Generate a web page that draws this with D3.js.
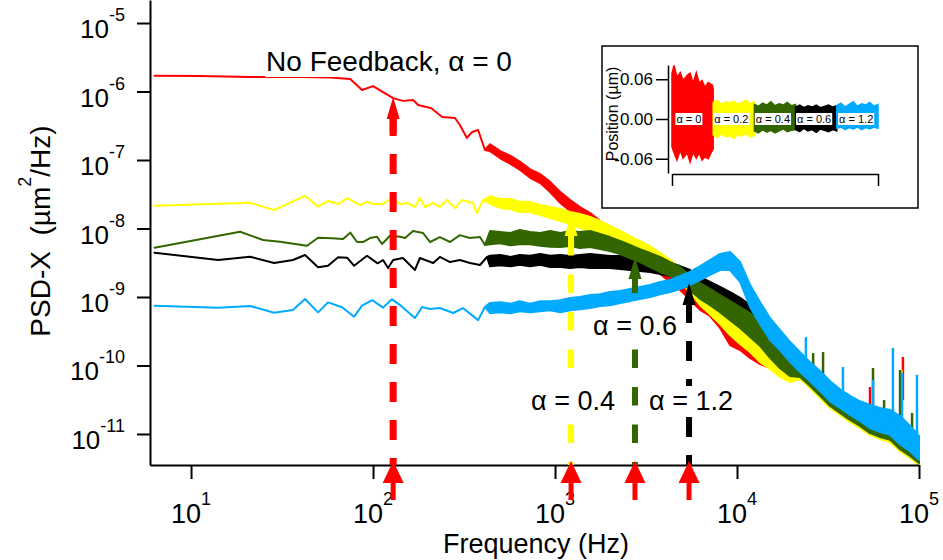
<!DOCTYPE html>
<html lang="en">
<head>
<meta charset="utf-8">
<title>PSD-X with feedback gain</title>
<script src="https://cdn.jsdelivr.net/npm/d3@7"></script>
<style>
  body { margin: 0; background: #fff; }
  text { font-family: "Liberation Sans", Arial, Helvetica, sans-serif; fill: #000; }
</style>
</head>
<body>
<svg id="chart" width="943" height="560"></svg>
<script>
// low-frequency (sparse) points: [frequency Hz, PSD um^2/Hz]
var redLow = [[6.3, 1.70e-6], [11.2, 1.68e-6], [21.1, 1.63e-6], [41, 1.63e-6], [58, 1.60e-6], [75, 1.52e-6],
  [87, 1.05e-6], [100, 1.2e-6], [129, 8.0e-7], [146, 7.3e-7], [166, 7.5e-7], [177, 6.35e-7],
  [209, 5.7e-7], [240, 4.25e-7], [282, 4.1e-7], [300, 3.24e-7], [328, 2.1e-7], [350, 2.56e-7],
  [378, 2.74e-7], [412, 1.4e-7]];
var yellowLow = [[6.3, 2.15e-8], [21.1, 2.38e-8], [28.5, 1.86e-8], [42.3, 3.0e-8], [49.9, 2.08e-8], [56.6, 2.52e-8],
  [64.3, 2.28e-8], [72, 2.79e-8], [85, 2.2e-8], [92.7, 2.46e-8], [100, 2.28e-8], [113.5, 2.28e-8],
  [127, 2.79e-8], [141, 2.28e-8], [154, 2.36e-8], [170, 2.06e-8], [181, 2.79e-8], [193, 2.06e-8],
  [214, 2.36e-8], [233, 2.06e-8], [255, 2.6e-8], [282, 1.99e-8], [308, 2.6e-8], [354, 2.36e-8],
  [372, 1.68e-8], [402, 2.6e-8]];
var greenLow = [[6.3, 5.25e-9], [18.6, 8.98e-9], [24.9, 6.79e-9], [30.8, 6.41e-9], [43.4, 5.6e-9], [49.9, 7.33e-9],
  [59.6, 7.2e-9], [68.4, 7.0e-9], [75, 8.7e-9], [81.7, 6.35e-9], [88, 6.35e-9], [96.3, 7.26e-9],
  [105, 7.6e-9], [112, 5.94e-9], [124, 7.85e-9], [141, 7.6e-9], [150, 7.26e-9], [166, 9.2e-9],
  [188, 8.6e-9], [206, 6.35e-9], [233, 7.5e-9], [265, 6.35e-9], [300, 8.0e-9], [341, 7.26e-9],
  [387, 7.5e-9], [412, 5.74e-9]];
var blackLow = [[6.3, 4.43e-9], [14.1, 3.47e-9], [21.1, 3.88e-9], [28.6, 3.13e-9], [36.3, 3.47e-9], [42.3, 4.11e-9],
  [49.9, 2.71e-9], [56.6, 2.86e-9], [64.3, 3.8e-9], [72, 3.75e-9], [78.7, 2.86e-9], [92.7, 4.0e-9],
  [106, 3.1e-9], [113.5, 3.47e-9], [121, 2.65e-9], [129, 3.47e-9], [146, 3.71e-9], [170, 2.48e-9],
  [181, 3.71e-9], [214, 3.13e-9], [233, 3.84e-9], [265, 3.24e-9], [300, 3.47e-9], [341, 3.13e-9],
  [387, 2.93e-9], [423, 3.84e-9]];
var blueLow = [[6.3, 7.47e-10], [14.1, 6.99e-10], [21.1, 7.4e-10], [28.6, 5.9e-10], [36.3, 6.45e-10], [42.3, 9.35e-10],
  [49.9, 5.97e-10], [56.6, 8.35e-10], [67.6, 7.1e-10], [78.7, 5.16e-10], [87, 7.47e-10], [99, 9.0e-10],
  [113.5, 7.0e-10], [127, 9.25e-10], [141, 7.6e-10], [170, 4.93e-10], [186, 7.14e-10], [206, 6.67e-10],
  [233, 6.9e-10], [276, 5.84e-10], [312, 6.9e-10], [378, 4.6e-10], [412, 7.14e-10]];

// dense (noisy) part: shared frequencies, upper and lower envelope per series
var fDense = [440, 500, 570, 640, 730, 830, 940, 1070, 1210, 1370, 1560, 1770, 2000, 2280, 2580, 2930, 3330,
  3780, 4290, 4870, 5520, 6270, 7110, 8070, 9160, 10400, 11800, 13400, 15200, 17200, 19600, 22200, 25200,
  28600, 32500, 36800, 41800, 47400, 53800, 61100, 69400, 78700, 89300, 100000];
var redHi = [1.7e-7, 1.35e-7, 1.15e-7, 9.5e-8, 7.3e-8, 6.2e-8, 4.8e-8, 3.4e-8, 2.6e-8, 2.06e-8, 1.68e-8, 1.29e-8,
  1.02e-8, 8.0e-9, 6.35e-9, 5.0e-9, 3.97e-9, 3.24e-9, 2.48e-9, 1.9e-9, 1.45e-9, 1.07e-9, 9.0e-10, 6.9e-10,
  5.46e-10, 4.3e-10, 3.3e-10, 2.6e-10, 2.06e-10, 1.63e-10, 1.29e-10, 1.2e-10, 9.2e-11, 6.8e-11, 4.85e-11,
  3.71e-11, 2.93e-11, 2.48e-11, 2.17e-11, 1.96e-11, 1.83e-11, 1.5e-11, 1.07e-11, 7.6e-12];
var redLo = [1.35e-7, 1.06e-7, 8.8e-8, 7.2e-8, 5.5e-8, 4.6e-8, 3.4e-8, 2.35e-8, 1.8e-8, 1.42e-8, 1.16e-8, 8.9e-9,
  7.0e-9, 5.55e-9, 4.39e-9, 3.47e-9, 2.74e-9, 2.17e-9, 1.66e-9, 1.27e-9, 9.0e-10, 6.5e-10, 5.28e-10, 3.53e-10,
  1.99e-10, 1.68e-10, 1.29e-10, 1.05e-10, 9.2e-11, 7.5e-11, 5.9e-11, 6.56e-11, 4.85e-11, 3.47e-11, 2.48e-11,
  1.96e-11, 1.55e-11, 1.27e-11, 1.0e-11, 8.7e-12, 7.9e-12, 5.84e-12, 4.6e-12, 3.65e-12];
var yellowHi = [2.95e-8, 2.7e-8, 2.7e-8, 2.45e-8, 2.45e-8, 2.2e-8, 2.06e-8, 1.93e-8, 1.74e-8, 1.63e-8, 1.47e-8,
  1.29e-8, 1.09e-8, 9.2e-9, 7.76e-9, 6.56e-9, 5.55e-9, 4.39e-9, 3.47e-9, 2.65e-9, 1.9e-9, 1.35e-9, 1.0e-9,
  7.6e-10, 5.8e-10, 4.47e-10, 3.41e-10, 2.6e-10, 2.06e-10, 1.68e-10, 1.33e-10, 1.29e-10, 9.2e-11, 6.8e-11,
  4.85e-11, 3.71e-11, 2.93e-11, 2.48e-11, 2.17e-11, 1.96e-11, 1.83e-11, 1.5e-11, 1.07e-11, 7.6e-12];
var yellowLo = [2.3e-8, 2.0e-8, 1.93e-8, 1.74e-8, 1.74e-8, 1.57e-8, 1.42e-8, 1.29e-8, 1.16e-8, 1.02e-8, 9.2e-9,
  8.0e-9, 6.79e-9, 5.74e-9, 4.85e-9, 4.25e-9, 3.71e-9, 2.93e-9, 2.24e-9, 1.66e-9, 1.18e-9, 7.6e-10, 5.6e-10,
  4.04e-10, 2.79e-10, 2.06e-10, 1.57e-10, 1.12e-10, 8.9e-11, 6.8e-11, 5.74e-11, 6.35e-11, 4.7e-11, 3.36e-11,
  2.4e-11, 1.9e-11, 1.5e-11, 1.22e-11, 9.7e-12, 8.45e-12, 7.6e-12, 5.6e-12, 4.47e-12, 3.53e-12];
var greenHi = [9.2e-9, 8.9e-9, 8.6e-9, 9.5e-9, 8.9e-9, 8.6e-9, 9.2e-9, 8.6e-9, 9.2e-9, 8.9e-9, 9.2e-9, 8.3e-9,
  7.5e-9, 6.56e-9, 5.74e-9, 5.0e-9, 4.39e-9, 3.84e-9, 3.24e-9, 2.74e-9, 2.03e-9, 1.6e-9, 1.31e-9, 1.07e-9,
  8.7e-10, 7.1e-10, 5.8e-10, 4.3e-10, 2.88e-10, 1.8e-10, 1.38e-10, 1.29e-10, 9.8e-11, 7.3e-11, 5.2e-11,
  4.0e-11, 3.13e-11, 2.65e-11, 2.32e-11, 2.1e-11, 1.96e-11, 1.6e-11, 1.14e-11, 8.2e-12];
var greenLo = [5.9e-9, 6.1e-9, 5.7e-9, 5.9e-9, 5.9e-9, 5.6e-9, 5.4e-9, 5.37e-9, 5.55e-9, 5.19e-9, 5.37e-9,
  5.0e-9, 4.7e-9, 4.25e-9, 3.71e-9, 3.24e-9, 2.74e-9, 2.32e-9, 2.03e-9, 1.71e-9, 1.27e-9, 9.35e-10, 7.6e-10,
  6.0e-10, 4.6e-10, 3.53e-10, 2.6e-10, 1.93e-10, 1.29e-10, 9.2e-11, 7.0e-11, 6.8e-11, 5.0e-11, 3.6e-11,
  2.56e-11, 2.03e-11, 1.6e-11, 1.31e-11, 1.03e-11, 9.0e-12, 8.2e-12, 6.0e-12, 4.77e-12, 3.78e-12];
var blackHi = [4.0e-9, 4.11e-9, 3.84e-9, 4.11e-9, 4.0e-9, 4.25e-9, 4.0e-9, 4.11e-9, 3.97e-9, 4.11e-9, 4.25e-9,
  4.11e-9, 3.97e-9, 3.97e-9, 3.84e-9, 3.71e-9, 3.59e-9, 3.36e-9, 3.13e-9, 2.83e-9, 2.48e-9, 1.96e-9, 1.66e-9,
  1.4e-9, 1.18e-9, 9.7e-10, 7.6e-10, 3.9e-10, 2.6e-10, 1.8e-10, 1.47e-10, 1.42e-10, 1.02e-10, 7.5e-11,
  5.37e-11, 4.1e-11, 3.24e-11, 2.74e-11, 2.4e-11, 2.17e-11, 2.03e-11, 1.66e-11, 1.18e-11, 8.45e-12];
var blackLo = [2.8e-9, 2.9e-9, 2.8e-9, 2.95e-9, 2.8e-9, 2.95e-9, 2.74e-9, 2.74e-9, 2.65e-9, 2.74e-9, 2.65e-9,
  2.65e-9, 2.65e-9, 2.56e-9, 2.48e-9, 2.4e-9, 2.32e-9, 2.17e-9, 2.03e-9, 1.83e-9, 1.6e-9, 1.22e-9, 1.03e-9,
  8.7e-10, 7.1e-10, 5.6e-10, 4.3e-10, 2.36e-10, 1.47e-10, 9.8e-11, 7.5e-11, 7.3e-11, 5.37e-11, 3.84e-11,
  2.74e-11, 2.17e-11, 1.71e-11, 1.4e-11, 1.1e-11, 9.7e-12, 8.7e-12, 6.45e-12, 5.1e-12, 3.9e-12];
var blueHi = [8.2e-10, 8.4e-10, 8.0e-10, 8.7e-10, 8.0e-10, 8.7e-10, 8.7e-10, 9.0e-10, 9.7e-10, 1.0e-9, 1.07e-9,
  1.1e-9, 1.18e-9, 1.22e-9, 1.31e-9, 1.4e-9, 1.5e-9, 1.66e-9, 1.77e-9, 2.03e-9, 2.32e-9, 2.83e-9, 3.47e-9,
  4.25e-9, 4.54e-9, 3.24e-9, 1.5e-9, 8.4e-10, 4.9e-10, 3.3e-10, 2.2e-10, 1.57e-10, 1.12e-10, 8.3e-11, 5.9e-11,
  4.5e-11, 3.6e-11, 3.0e-11, 2.65e-11, 2.4e-11, 2.24e-11, 1.83e-11, 1.31e-11, 9.4e-12];
var blueLo = [5.8e-10, 6.0e-10, 5.8e-10, 6.2e-10, 6.0e-10, 6.2e-10, 6.4e-10, 6.0e-10, 6.4e-10, 6.6e-10, 6.9e-10,
  7.4e-10, 7.6e-10, 8.2e-10, 8.7e-10, 9.35e-10, 1.0e-9, 1.1e-9, 1.18e-9, 1.31e-9, 1.5e-9, 1.77e-9, 2.1e-9,
  2.48e-9, 2.48e-9, 1.66e-9, 7.1e-10, 4.0e-10, 2.36e-10, 1.68e-10, 1.12e-10, 8.0e-11, 5.9e-11, 4.25e-11,
  3.0e-11, 2.4e-11, 1.9e-11, 1.55e-11, 1.22e-11, 1.07e-11, 9.7e-12, 7.1e-12, 5.6e-12, 4.2e-12];

// narrow resonance peaks: [frequency, base PSD, peak PSD]
var redSpikes = [[53800, 2.24e-11, 4.85e-11], [81600, 3.13e-11, 1.33e-10]];
var yellowSpikes = [[31600, 3.13e-11, 5.55e-11], [80000, 1.6e-11, 8.6e-11]];
var greenSpikes = [[26200, 6.1e-11, 1.52e-10], [29700, 5.2e-11, 1.57e-10], [55900, 2.65e-11, 9.2e-11],
  [64300, 1.6e-11, 3.13e-11], [78700, 1.6e-11, 8.6e-11], [91600, 6.9e-12, 2.03e-11]];
var blueSpikes = [[23900, 1.09e-10, 2.6e-10], [38200, 3.97e-11, 9.5e-11], [55900, 2.24e-11, 6.14e-11],
  [71900, 1.6e-11, 1.8e-10], [80700, 1.35e-11, 7.8e-11], [97500, 8.2e-12, 7.3e-11]];

// corner frequencies marked with arrows
var arrowFreq = [129, 1225, 2750, 5450];
var arrowTip = [8.3e-7, 1.63e-8, 3.84e-9, 1.6e-9];

// axis ticks
var xMajor = [1e1, 1e2, 1e3, 1e4, 1e5];
var xExp = ["1", "2", "3", "4", "5"];
var yMajor = [1e-5, 1e-6, 1e-7, 1e-8, 1e-9, 1e-10, 1e-11];
var yExp = ["-5", "-6", "-7", "-8", "-9", "-10", "-11"];

// inset: position traces (um) vs time, upper / lower envelope
var redTraceT = [0, 0.5, 1.2, 2.0, 2.7, 3.7, 4.4, 5.1, 5.9, 6.6, 7.3, 8.0, 8.8, 9.8, 10];
var redTraceTop = [0.069, 0.081, 0.063, 0.070, 0.058, 0.066, 0.069, 0.054, 0.070, 0.054, 0.058, 0.048, 0.055, 0.051, 0.046];
var redTraceBot = [-0.042, -0.051, -0.062, -0.047, -0.059, -0.051, -0.065, -0.050, -0.059, -0.051, -0.062, -0.057, -0.060, -0.047, -0.045];
var traceT = [0, 1, 2, 3, 4, 5, 6, 7, 8, 9, 10];
var yellowTraceTop = [0.025, 0.028, 0.022, 0.026, 0.024, 0.027, 0.022, 0.025, 0.028, 0.023, 0.026];
var yellowTraceBot = [-0.024, -0.028, -0.022, -0.027, -0.025, -0.029, -0.023, -0.026, -0.022, -0.027, -0.025];
var greenTraceTop = [0.022, 0.019, 0.024, 0.021, 0.026, 0.020, 0.023, 0.021, 0.025, 0.020, 0.022];
var greenTraceBot = [-0.018, -0.021, -0.016, -0.020, -0.017, -0.021, -0.018, -0.015, -0.019, -0.017, -0.016];
var blackTraceTop = [0.018, 0.021, 0.017, 0.020, 0.018, 0.021, 0.017, 0.019, 0.021, 0.018, 0.020];
var blackTraceBot = [-0.016, -0.019, -0.014, -0.018, -0.016, -0.020, -0.015, -0.017, -0.019, -0.016, -0.018];
var blueTraceTop = [0.020, 0.024, 0.018, 0.022, 0.026, 0.019, 0.023, 0.021, 0.025, 0.019, 0.022];
var blueTraceBot = [-0.014, -0.012, -0.016, -0.013, -0.015, -0.012, -0.016, -0.013, -0.015, -0.012, -0.014];
var insetLabels = ["α = 0", "α = 0.2", "α = 0.4", "α = 0.6", "α = 1.2"];
var insetLabelT = [4.1, 14.4, 24.5, 34.5, 44.7];

var RED = "#ff0000", YELLOW = "#ffff00", GREEN = "#336600", BLACK = "#000000", BLUE = "#00aaff";

var svg = d3.select("#chart");

var x = d3.scaleLog().domain([5.95, 1e5]).range([150, 919]);
var y = d3.scaleLog().domain([3.526e-12, 2.168e-5]).range([465, 0]);

function bandData(low, hi, lo) {
  return low.map(function(d) { return {f: d[0], hi: d[1], lo: d[1]}; })
    .concat(fDense.map(function(f, i) { return {f: f, hi: hi[i], lo: lo[i]}; }));
}

var series = [
  {color: RED, data: bandData(redLow, redHi, redLo), spikes: redSpikes},
  {color: YELLOW, data: bandData(yellowLow, yellowHi, yellowLo), spikes: yellowSpikes},
  {color: BLACK, data: bandData(blackLow, blackHi, blackLo), spikes: []},
  {color: GREEN, data: bandData(greenLow, greenHi, greenLo), spikes: greenSpikes},
  {color: BLUE, data: bandData(blueLow, blueHi, blueLo), spikes: blueSpikes}
];

var area = d3.area()
  .x(function(d) { return x(d.f); })
  .y0(function(d) { return y(d.lo); })
  .y1(function(d) { return y(d.hi); });

series.forEach(function(s) {
  svg.append("path").datum(s.data)
    .attr("d", area)
    .attr("fill", s.color)
    .attr("stroke", s.color)
    .attr("stroke-width", 2)
    .attr("stroke-linejoin", "round");
  svg.selectAll(null).data(s.spikes).enter().append("line")
    .attr("x1", function(d) { return x(d[0]); })
    .attr("x2", function(d) { return x(d[0]); })
    .attr("y1", function(d) { return y(d[1]); })
    .attr("y2", function(d) { return y(d[2]); })
    .attr("stroke", s.color)
    .attr("stroke-width", 2.5);
});

// axes
var xMinor = [];
[1, 10, 100, 1000, 10000].forEach(function(d) {
  for (var k = 2; k < 10; k++) if (k * d > 6.5 && k * d < 1e5) xMinor.push(k * d);
});

var gx = svg.append("g").attr("transform", "translate(0,465)");
gx.call(d3.axisBottom(x).tickValues(xMinor).tickSize(7).tickSizeOuter(0).tickFormat(""));
gx.call(d3.axisBottom(x).tickValues(xMajor).tickSize(14).tickSizeOuter(0).tickFormat(""));
var gy = svg.append("g").attr("transform", "translate(150,0)");
gy.call(d3.axisLeft(y).tickValues(yMajor).tickSize(13).tickSizeOuter(0).tickFormat(""));
svg.selectAll(".domain, .tick line").attr("stroke", "#000").attr("stroke-width", 2);

xMajor.forEach(function(v, i) {
  var t = svg.append("text").attr("x", x(v)).attr("y", 523)
    .attr("text-anchor", "middle").attr("font-size", 27).text("10");
  t.append("tspan").attr("dy", -18).attr("font-size", 18).text(xExp[i]);
});
yMajor.forEach(function(v, i) {
  var t = svg.append("text").attr("x", 125).attr("y", y(v) + 15)
    .attr("text-anchor", "end").attr("font-size", 26).text("10");
  t.append("tspan").attr("dy", -17).attr("font-size", 18).text(yExp[i]);
});

svg.append("text").attr("x", 536).attr("y", 553).attr("text-anchor", "middle")
  .attr("font-size", 27).text("Frequency (Hz)");
var yl = svg.append("text").attr("transform", "translate(50,231) rotate(-90)")
  .attr("text-anchor", "middle").attr("font-size", 28).text("PSD-X\u00a0 (µm");
yl.append("tspan").attr("dy", -19).attr("font-size", 18).text("2");
yl.append("tspan").attr("dy", 19).text("/Hz)");

// dashed arrows up to each corner frequency
var arrowStyle = [
  {color: RED, width: 7, dash: "20,18", offset: 13},
  {color: YELLOW, width: 6, dash: "18.5,19", offset: 15.5},
  {color: GREEN, width: 6, dash: "18.5,19", offset: 15.5},
  {color: BLACK, width: 6, dash: "20,18", offset: 10}
];
var headW = 13, headH = 22;
arrowFreq.forEach(function(f, i) {
  var st = arrowStyle[i], xi = x(f), yt = y(arrowTip[i]);
  svg.append("line").attr("x1", xi).attr("x2", xi).attr("y1", 465).attr("y2", yt + headH)
    .attr("stroke", st.color).attr("stroke-width", st.width)
    .attr("stroke-dasharray", st.dash).attr("stroke-dashoffset", st.offset);
  svg.append("line").attr("x1", xi).attr("x2", xi).attr("y1", yt + headH - 1).attr("y2", yt + headH + 14)
    .attr("stroke", st.color).attr("stroke-width", st.width);
  svg.append("path")
    .attr("d", "M" + xi + "," + yt + "L" + (xi - headW / 2) + "," + (yt + headH) + "L" + (xi + headW / 2) + "," + (yt + headH) + "Z")
    .attr("fill", st.color);
  // red marker below the axis
  svg.append("path")
    .attr("d", "M" + xi + ",461L" + (xi - 10.5) + ",483L" + (xi + 10.5) + ",483Z")
    .attr("fill", RED);
  svg.append("rect").attr("x", xi - 2.5).attr("y", 482).attr("width", 5).attr("height", 18).attr("fill", RED);
});

// annotations with white backgrounds
function label(str, cx, base, size) {
  var g = svg.append("g");
  var t = g.append("text").attr("x", cx).attr("y", base).attr("text-anchor", "middle")
    .attr("font-size", size).text(str);
  var b = t.node().getBBox();
  g.insert("rect", "text").attr("x", b.x - 1).attr("y", b.y).attr("width", b.width + 2)
    .attr("height", b.height).attr("fill", "#fff");
}
label("No Feedback, α = 0", 389, 71, 28);
label("α = 0.6", 635, 335, 27);
label("α = 0.4", 573, 410, 27);
label("α = 1.2", 691, 410, 27);

// inset
svg.append("rect").attr("x", 602).attr("y", 46).attr("width", 316).attr("height", 162)
  .attr("fill", "#fff").attr("stroke", "#000").attr("stroke-width", 1.5);
var ix = d3.scaleLinear().domain([0, 50]).range([672, 878]);
var iy = d3.scaleLinear().domain([-0.0815, 0.0815]).range([173, 65]);

var traces = [
  {color: RED, t: redTraceT, off: 0, top: redTraceTop, bot: redTraceBot},
  {color: YELLOW, t: traceT, off: 10, top: yellowTraceTop, bot: yellowTraceBot},
  {color: GREEN, t: traceT, off: 20, top: greenTraceTop, bot: greenTraceBot},
  {color: BLACK, t: traceT, off: 30, top: blackTraceTop, bot: blackTraceBot},
  {color: BLUE, t: traceT, off: 40, top: blueTraceTop, bot: blueTraceBot}
];
var tArea = d3.area()
  .x(function(d) { return ix(d.t); })
  .y0(function(d) { return iy(d.b); })
  .y1(function(d) { return iy(d.u); });
traces.forEach(function(tr) {
  var pts = tr.t.map(function(t, i) { return {t: t + tr.off, u: tr.top[i], b: tr.bot[i]}; });
  svg.append("path").datum(pts).attr("d", tArea)
    .attr("fill", tr.color).attr("stroke", tr.color).attr("stroke-width", 1.5);
});

var giy = svg.append("g").attr("transform", "translate(668,0)");
giy.call(d3.axisLeft(iy).tickValues([-0.04, -0.02, 0.02, 0.04]).tickSize(6).tickSizeOuter(0).tickFormat(""));
giy.call(d3.axisLeft(iy).tickValues([-0.06, 0, 0.06]).tickSize(12).tickSizeOuter(0)
  .tickFormat(function(d) { return d.toFixed(2); }));
giy.selectAll("text").attr("font-size", 17).attr("font-family", null).attr("fill", "#000");
var gix = svg.append("g").attr("transform", "translate(0,174)");
gix.call(d3.axisBottom(ix).tickValues([0, 50]).tickSize(12).tickSizeOuter(0).tickFormat(""));
giy.selectAll(".domain, .tick line").attr("stroke", "#000").attr("stroke-width", 1.5);
gix.selectAll(".domain, .tick line").attr("stroke", "#000").attr("stroke-width", 1.5);

svg.append("text").attr("transform", "translate(618,114) rotate(-90)")
  .attr("text-anchor", "middle").attr("font-size", 16).text("Position (µm)");

insetLabels.forEach(function(s, i) {
  var g = svg.append("g");
  var t = g.append("text").attr("x", ix(insetLabelT[i])).attr("y", iy(0) + 4)
    .attr("text-anchor", "middle").attr("font-size", 11).text(s);
  var b = t.node().getBBox();
  g.insert("rect", "text").attr("x", b.x - 1).attr("y", b.y).attr("width", b.width + 2)
    .attr("height", b.height).attr("fill", "#fff");
});
</script>
</body>
</html>
